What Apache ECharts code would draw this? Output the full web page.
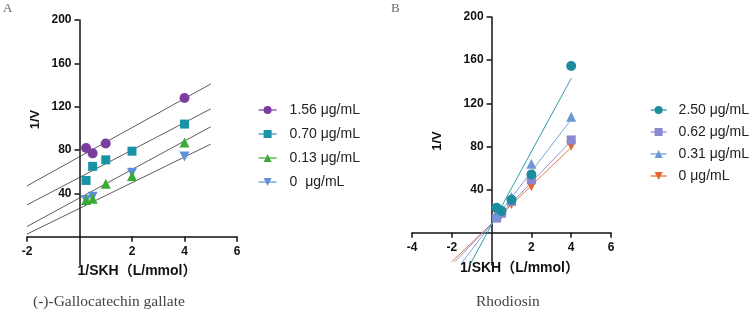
<!DOCTYPE html>
<html>
<head>
<meta charset="utf-8">
<script src="https://cdn.jsdelivr.net/npm/echarts@6/dist/echarts.min.js"></script>
<style>
  html, body { margin: 0; padding: 0; background: #fff; }
  #chart { width: 749px; height: 317px; }
</style>
</head>
<body>
<div id="chart"></div>
<script>
// x values shared by both panels (1/SKH, L/mmol)
const skhInv = [0.25, 0.5, 1, 2, 4];

// panel A: (-)-Gallocatechin gallate
const namesA = ['1.56 μg/mL', '0.70 μg/mL', '0.13 μg/mL', '0  μg/mL'];
const ggA156 = [82, 77, 86, null, 128];
const ggA070 = [52, 65, 71, 79, 104];
const ggA013 = [34, 35, 49, 56, 87];
const ggA000 = [34, 37, null, 59, 74];
const fitA156 = [[-2, 47], [5, 141]];
const fitA070 = [[-2, 29.5], [5, 118]];
const fitA013 = [[-2, 9.5], [5, 101.5]];
const fitA000 = [[-2, 2.5], [5, 85.5]];
const xTicksA = [-2, 2, 4, 6];

// panel B: Rhodiosin
const namesB = ['2.50 μg/mL', '0.62 μg/mL', '0.31 μg/mL', '0 μg/mL'];
const rhB250 = [23, 20, 30.5, 54, 154.5];
const rhB062 = [13.5, 18, 29, 49, 86];
const rhB031 = [17, 21, 33, 64, 107.5];
const rhB000 = [19, 17, 26.5, 43, 80.5];
const fitB250 = [[-1.1, -30], [4, 143]];
const fitB062 = [[-1.85, -27], [4, 85]];
const fitB031 = [[-1.5, -28], [4, 105]];
const fitB000 = [[-2.0, -27], [4, 79]];
const xTicksB = [-4, -2, 2, 4, 6];

const yTicks = [40, 80, 120, 160, 200];
const xName = '1/SKH（L/mmol）';
const yName = '1/V';

const sans = 'Liberation Sans, Arial, Noto Sans CJK SC, sans-serif';
const serif = 'Liberation Serif, DejaVu Serif, serif';
const ink = '#111';
const W = 749, H = 317;

const pairs = (xs, ys) => xs.map((x, i) => [x, ys[i]]).filter(p => p[1] != null);

// v6 leaves labels at the grid edge with onZero, so shift the axes to zero with offset instead
const gridA = { left: 27, right: 512, top: 20, bottom: 52 };
const gridB = { left: 412, right: 138, top: 17, bottom: 52 };
const rangeA = { xMin: -2, xMax: 6, yMin: -26, yMax: 200 };
const rangeB = { xMin: -4, xMax: 6, yMin: -30, yMax: 200 };

function zeroShift(g, r) {
  const w = W - g.left - g.right, h = H - g.top - g.bottom;
  return {
    x: -(0 - r.yMin) / (r.yMax - r.yMin) * h,   // x axis moves up to y = 0
    y: -(0 - r.xMin) / (r.xMax - r.xMin) * w    // y axis moves right to x = 0
  };
}
const shiftA = zeroShift(gridA, rangeA);
const shiftB = zeroShift(gridB, rangeB);

function xAxisOf(grid, r, ticks, off, nameGap, namePad) {
  return {
    gridIndex: grid, type: 'value', min: r.xMin, max: r.xMax, interval: 2,
    position: 'bottom', offset: off,
    name: xName, nameLocation: 'middle', nameGap: nameGap,
    nameTextStyle: { fontFamily: sans, fontWeight: 'bold', fontSize: 14, color: ink, padding: namePad },
    axisLine: { onZero: false, lineStyle: { color: ink, width: 1.5 } },
    axisTick: { length: 5, customValues: ticks, lineStyle: { color: ink, width: 1.5 } },
    axisLabel: { customValues: ticks, fontFamily: sans, fontWeight: 'bold', fontSize: 12, color: ink, margin: 9 },
    splitLine: { show: false }
  };
}

function yAxisOf(grid, r, off, nameGap, namePad) {
  return {
    gridIndex: grid, type: 'value', min: r.yMin, max: r.yMax,
    position: 'left', offset: off,
    name: yName, nameLocation: 'middle', nameGap: nameGap,
    nameTextStyle: { fontFamily: sans, fontWeight: 'bold', fontSize: 13, color: ink, padding: namePad },
    axisLine: { onZero: false, lineStyle: { color: ink, width: 1.5 } },
    axisTick: { length: 5, customValues: yTicks, lineStyle: { color: ink, width: 1.5 } },
    axisLabel: { customValues: yTicks, fontFamily: sans, fontWeight: 'bold', fontSize: 12, color: ink, margin: 8 },
    splitLine: { show: false }
  };
}

function points(grid, name, xs, ys, color, symbol, size, rotate) {
  return {
    type: 'line', name: name, xAxisIndex: grid, yAxisIndex: grid,
    data: pairs(xs, ys), color: color,
    symbol: symbol, symbolSize: size, symbolRotate: rotate || 0, showAllSymbol: true,
    itemStyle: { color: color },
    lineStyle: { color: color, opacity: 0 },
    z: 3
  };
}

function fit(grid, data, color, width) {
  return {
    type: 'line', name: 'fit', xAxisIndex: grid, yAxisIndex: grid,
    data: data, symbol: 'none', silent: true,
    lineStyle: { color: color, width: width }, z: 2
  };
}

const colA = ['#7b3d9f', '#1b93a6', '#3aa935', '#5f8fd6'];
const colB = ['#1b8d9e', '#8b87d0', '#6c98d5', '#e5662b'];

const chart = echarts.init(document.getElementById('chart'), null, { renderer: 'canvas' });
chart.setOption({
  animation: false,
  backgroundColor: '#fff',
  grid: [
    Object.assign({ containLabel: false, outerBoundsMode: 'none' }, gridA),
    Object.assign({ containLabel: false, outerBoundsMode: 'none' }, gridB)
  ],
  xAxis: [
    xAxisOf(0, rangeA, xTicksA, shiftA.x, 27, [0, 0, 0, 10]),
    xAxisOf(1, rangeB, xTicksB, shiftB.x, 28, [0, 0, 0, 16])
  ],
  yAxis: [
    yAxisOf(0, rangeA, shiftA.y, 38, [0, 0, 0, 46]),
    yAxisOf(1, rangeB, shiftB.y, 48, [0, 0, 0, 0])
  ],
  legend: [
    {
      data: namesA, orient: 'vertical', left: 258, top: 103, padding: 0,
      itemWidth: 18, itemHeight: 10, itemGap: 10,
      textStyle: { fontFamily: sans, fontSize: 14, color: '#222', padding: [0, 0, 0, 8] },
      lineStyle: { opacity: 1, width: 1.2 }
    },
    {
      data: namesB, orient: 'vertical', left: 650, top: 103, padding: 0,
      itemWidth: 16, itemHeight: 10, itemGap: 8,
      textStyle: { fontFamily: sans, fontSize: 14, color: '#222', padding: [0, 0, 0, 7] },
      lineStyle: { opacity: 1, width: 1.2 }
    }
  ],
  graphic: [
    { type: 'text', left: 3, top: 2, style: { text: 'A', font: '13px ' + serif, fill: '#666' } },
    { type: 'text', left: 391, top: 2, style: { text: 'B', font: '13px ' + serif, fill: '#666' } },
    { type: 'text', left: 33, top: 294, style: { text: '(-)-Gallocatechin gallate', font: '15.5px ' + serif, fill: '#444' } },
    { type: 'text', left: 476, top: 294, style: { text: 'Rhodiosin', font: '15.5px ' + serif, fill: '#444' } }
  ],
  series: [
    fit(0, fitA156, '#333', 0.8),
    fit(0, fitA070, '#333', 0.8),
    fit(0, fitA013, '#333', 0.8),
    fit(0, fitA000, '#333', 0.8),
    points(0, namesA[0], skhInv, ggA156, colA[0], 'circle', 10),
    points(0, namesA[1], skhInv, ggA070, colA[1], 'rect', 9),
    points(0, namesA[3], skhInv, ggA000, colA[3], 'triangle', 10, 180),
    points(0, namesA[2], skhInv, ggA013, colA[2], 'triangle', 10),

    fit(1, fitB000, colB[3], 0.9),
    fit(1, fitB031, colB[2], 0.9),
    fit(1, fitB062, colB[1], 0.9),
    fit(1, fitB250, colB[0], 0.9),
    points(1, namesB[3], skhInv, rhB000, colB[3], 'triangle', 10, 180),
    points(1, namesB[1], skhInv, rhB062, colB[1], 'rect', 9),
    points(1, namesB[2], skhInv, rhB031, colB[2], 'triangle', 10),
    points(1, namesB[0], skhInv, rhB250, colB[0], 'circle', 10)
  ]
});
</script>
</body>
</html>
